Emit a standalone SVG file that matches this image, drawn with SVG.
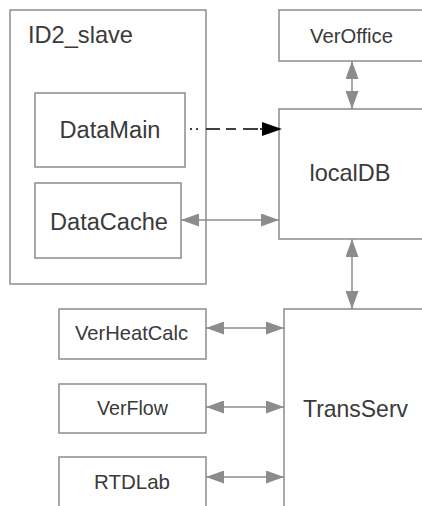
<svg xmlns="http://www.w3.org/2000/svg" width="422" height="506" viewBox="0 0 422 506">
<style>
.box{fill:#fff;stroke:#8c8c8c;stroke-width:1.5}
.t{font-family:"Liberation Sans",Arial,sans-serif;fill:#3a3a3a;text-anchor:middle}
.c{stroke:#8c8c8c;stroke-width:1.5;fill:none}
</style>
<defs>
<marker id="g" markerUnits="userSpaceOnUse" markerWidth="18" markerHeight="13" refX="18" refY="6.5" orient="auto-start-reverse"><path d="M0,0 L18,6.5 L0,13 z" fill="#8c8c8c"/></marker>
<marker id="b" markerUnits="userSpaceOnUse" markerWidth="20" markerHeight="14" refX="0" refY="7" orient="auto"><path d="M0,0 L20,7 L0,14 z" fill="#000"/></marker>
</defs>
<rect width="422" height="506" fill="#fff"/>
<g id="ID2_slave"><rect class="box" x="10" y="10" width="196" height="274"/><text class="t" x="28" y="43" font-size="24" style="text-anchor:start" textLength="105" lengthAdjust="spacingAndGlyphs">ID2_slave</text></g>
<g id="DataMain"><rect class="box" x="35" y="93" width="150" height="74"/><text class="t" x="110" y="138" font-size="23" textLength="101" lengthAdjust="spacingAndGlyphs">DataMain</text></g>
<g id="DataCache"><rect class="box" x="35" y="183" width="146" height="75"/><text class="t" x="109" y="230" font-size="23" textLength="118" lengthAdjust="spacingAndGlyphs">DataCache</text></g>
<g id="VerOffice"><rect class="box" x="279" y="10" width="160" height="51"/><text class="t" x="351.5" y="43" font-size="21" textLength="83" lengthAdjust="spacingAndGlyphs">VerOffice</text></g>
<g id="localDB"><rect class="box" x="279" y="109" width="160" height="130"/><text class="t" x="350" y="181" font-size="24" textLength="81" lengthAdjust="spacingAndGlyphs">localDB</text></g>
<g id="TransServ"><rect class="box" x="284" y="309" width="160" height="220"/><text class="t" x="355.5" y="417" font-size="24" textLength="105" lengthAdjust="spacingAndGlyphs">TransServ</text></g>
<g id="VerHeatCalc"><rect class="box" x="59" y="309" width="147" height="50"/><text class="t" x="131.5" y="340" font-size="21" textLength="113" lengthAdjust="spacingAndGlyphs">VerHeatCalc</text></g>
<g id="VerFlow"><rect class="box" x="59" y="384" width="147" height="49"/><text class="t" x="132.5" y="415" font-size="21" textLength="71" lengthAdjust="spacingAndGlyphs">VerFlow</text></g>
<g id="RTDLab"><rect class="box" x="59" y="457" width="147" height="70"/><text class="t" x="132" y="489" font-size="21" textLength="76" lengthAdjust="spacingAndGlyphs">RTDLab</text></g>
<g id="connectors">
<line class="c" x1="352" y1="61" x2="352" y2="109" marker-start="url(#g)" marker-end="url(#g)"/>
<line class="c" x1="352" y1="239" x2="352" y2="309" marker-start="url(#g)" marker-end="url(#g)"/>
<line x1="190" y1="129" x2="262" y2="129" stroke="#000" stroke-width="1.5" stroke-dasharray="2 4 2 8 14 6 10 7 15" marker-end="url(#b)"/>
<line class="c" x1="181" y1="220" x2="279" y2="220" marker-start="url(#g)" marker-end="url(#g)"/>
<line class="c" x1="206" y1="328" x2="284" y2="328" marker-start="url(#g)" marker-end="url(#g)"/>
<line class="c" x1="206" y1="407" x2="284" y2="407" marker-start="url(#g)" marker-end="url(#g)"/>
<line class="c" x1="206" y1="477" x2="284" y2="477" marker-start="url(#g)" marker-end="url(#g)"/>
</g>
</svg>
